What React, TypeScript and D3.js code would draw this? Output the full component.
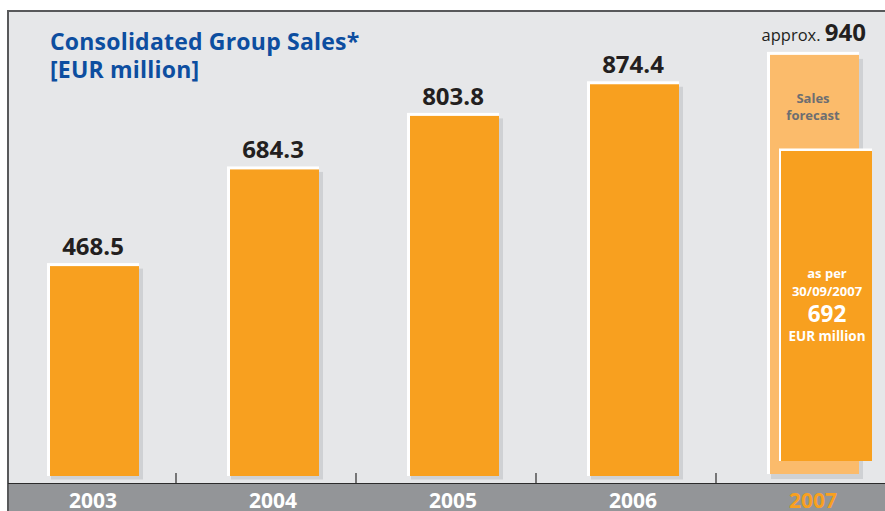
import React from "react";
import * as d3 from "d3";

const years = ["2003", "2004", "2005", "2006", "2007"];
const sales = [468.5, 684.3, 803.8, 874.4];
const salesLabels = ["468.5", "684.3", "803.8", "874.4"];
const forecastValue = 940;
const forecastLabel = "940";
const ytdValue = 692;
const ytdLines = ["as per", "30/09/2007"];
const ytdLabel = "692";
const ytdUnit = "EUR million";
const titleLines = ["Consolidated Group Sales*", "[EUR million]"];
const forecastText = ["Sales", "forecast"];

const W = 885;
const H = 511;
const ORANGE = "#f8a01f";
const LIGHT = "#fbbb6b";
const BG = "#e6e7e9";
const SHADOW = "#cfd1d4";
const BAND = "#939598";
const FONT = "'Open Sans', 'Noto Sans', sans-serif";

export default function App() {
  const x = d3.scaleBand<string>().domain(years).range([2, 902]).padding(0);
  const y = d3.scaleLinear().domain([0, 1000]).range([476, 28]);
  const c = (yr: string) => (x(yr) as number) + x.bandwidth() / 2 + 1;
  const y0 = y(0);

  const fy = y(forecastValue);
  const fc = c("2007");
  const ytdBottom = y0 - 15;
  const ytdTop = ytdBottom - (y0 - y(ytdValue));

  return (
    <svg width={W} height={H} style={{ position: "absolute", left: 0, top: 0, display: "block" }}>
      <rect x={0} y={0} width={W} height={H} fill="#ffffff" />
      <rect x={8} y={11} width={W - 8} height={473} fill={BG} />
      <rect x={8} y={484} width={W - 8} height={H - 484} fill={BAND} />
      <line x1={8} x2={W} y1={11} y2={11} stroke="#58595b" strokeWidth={2} />
      <line x1={8} x2={8} y1={10} y2={H} stroke="#58595b" strokeWidth={2} />
      <line x1={8} x2={W} y1={483.5} y2={483.5} stroke="#2b2b2b" strokeWidth={1.2} />
      {years.slice(0, 4).map((yr) => (
        <line key={"t" + yr} x1={c(yr) + 83} x2={c(yr) + 83} y1={473} y2={483} stroke="#2b2b2b" strokeWidth={1.2} />
      ))}

      {titleLines.map((t, i) => (
        <text key={t} x={50} y={50 + i * 28} fill="#0d4ea0" fontFamily={FONT} fontWeight={700} fontSize={23} letterSpacing={0.2}>
          {t}
        </text>
      ))}

      {sales.map((v, i) => {
        const cx = c(years[i]);
        const top = y(v);
        return (
          <g key={years[i]}>
            <rect x={cx - 42} y={top + 2.5} width={92} height={y0 + 3.5 - (top + 2.5)} fill={SHADOW} />
            <rect x={cx - 46} y={top - 3} width={92} height={y0 - top + 3} fill="#ffffff" />
            <rect x={cx - 43} y={top} width={89} height={y0 - top} fill={ORANGE} />
            <text x={cx} y={top - 11} textAnchor="middle" fill="#231f20" fontFamily={FONT} fontWeight={700} fontSize={24}>
              {salesLabels[i]}
            </text>
          </g>
        );
      })}

      {/* forecast bar */}
      <g>
        <rect x={fc - 42} y={fy + 4} width={92} height={y0 + 3 - (fy + 4)} fill={SHADOW} />
        <rect x={fc - 46} y={fy - 3} width={92} height={y0 - 2 - fy + 3} fill="#ffffff" />
        <rect x={fc - 43} y={fy} width={89} height={y0 - 2 - fy} fill={LIGHT} />
        <text x={fc + 53} y={fy - 14} textAnchor="end" fontFamily={FONT}>
          <tspan fill="#231f20" fontSize={16.5}>approx. </tspan>
          <tspan fill="#231f20" fontSize={24} fontWeight={700}>{forecastLabel}</tspan>
        </text>
        {forecastText.map((t, i) => (
          <text key={t} x={fc} y={fy + 48 + i * 17} textAnchor="middle" fill="#6d6e71" fontFamily={FONT} fontWeight={700} fontSize={13}>
            {t}
          </text>
        ))}
      </g>

      {/* year-to-date bar */}
      <g>
        <rect x={fc - 34} y={ytdTop - 2.5} width={93} height={ytdBottom - ytdTop + 2.5} fill="#ffffff" />
        <rect x={fc - 32} y={ytdTop} width={91} height={ytdBottom - ytdTop} fill={ORANGE} />
        {ytdLines.map((t, i) => (
          <text key={t} x={fc + 14} y={ytdTop + 127 + i * 18} textAnchor="middle" fill="#ffffff" fontFamily={FONT} fontWeight={700} fontSize={13}>
            {t}
          </text>
        ))}
        <text x={fc + 14} y={ytdTop + 171} textAnchor="middle" fill="#ffffff" fontFamily={FONT} fontWeight={700} fontSize={22.5}>
          {ytdLabel}
        </text>
        <text x={fc + 14} y={ytdTop + 190} textAnchor="middle" fill="#ffffff" fontFamily={FONT} fontWeight={700} fontSize={13.5}>
          {ytdUnit}
        </text>
      </g>

      {years.map((yr, i) => (
        <text key={"l" + yr} x={c(yr)} y={507.5} textAnchor="middle" fill={i === years.length - 1 ? ORANGE : "#ffffff"} fontFamily={FONT} fontWeight={700} fontSize={21}>
          {yr}
        </text>
      ))}
    </svg>
  );
}
